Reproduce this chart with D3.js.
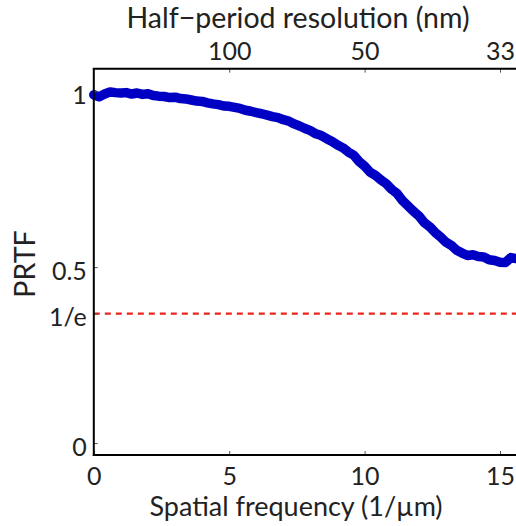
<!DOCTYPE html>
<html><head><meta charset="utf-8">
<script src="https://cdn.jsdelivr.net/npm/d3@7"></script>
<style>
html,body{margin:0;padding:0;background:#fff;}
svg{display:block;}
text{font-family:Lato, "Open Sans", sans-serif;fill:#222;}
</style></head>
<body>
<script>
// ---- data ----
const freq = [0.0,0.2,0.4,0.6,0.8,1.0,1.2,1.4,1.6,1.8,2.0,2.2,2.4,2.6,2.8,3.0,3.2,3.4,3.6,3.8,
  4.0,4.2,4.4,4.6,4.8,5.0,5.2,5.4,5.6,5.8,6.0,6.2,6.4,6.6,6.8,7.0,7.2,7.4,7.6,7.8,
  8.0,8.2,8.4,8.6,8.8,9.0,9.2,9.4,9.6,9.8,10.0,10.2,10.4,10.6,10.8,11.0,11.2,11.4,11.6,11.8,
  12.0,12.2,12.4,12.6,12.8,13.0,13.2,13.4,13.6,13.8,14.0,14.2,14.4,14.6,14.8,15.0,15.2,15.4,15.6];
const prtf = [0.990,0.984,0.992,0.998,0.996,0.995,0.996,0.992,0.995,0.991,0.993,0.988,0.986,0.985,0.982,0.983,0.979,0.978,0.975,0.972,
  0.971,0.967,0.964,0.962,0.958,0.957,0.954,0.951,0.946,0.943,0.939,0.936,0.932,0.928,0.925,0.919,0.915,0.907,0.901,0.894,
  0.888,0.879,0.874,0.865,0.857,0.847,0.839,0.827,0.818,0.800,0.787,0.770,0.761,0.748,0.737,0.721,0.709,0.689,0.674,0.659,
  0.646,0.627,0.615,0.599,0.586,0.571,0.562,0.548,0.540,0.533,0.535,0.530,0.529,0.521,0.519,0.514,0.513,0.527,0.524];
const xTicks = [0,5,10,15];
const xTickLabels = ["0","5","10","15"];
const topTicks = [5,10,15];
const topTickLabels = ["100","50","33"];
const yTicks = [0,0.5,1/Math.E,1];
const yTickLabels = ["0","0.5","1/e","1"];
const threshold = 1/Math.E;
const xTitle = "Spatial frequency (1/\u00b5m)";
const topTitle = "Half\u2212period resolution (nm)";
const yTitle = "PRTF";

// ---- layout ----
const W = 516, H = 526;
const svg = d3.select("body").append("svg").attr("width", W).attr("height", H);
const x = d3.scaleLinear().domain([0, 15.59]).range([93.8, 516]);
const y = d3.scaleLinear().domain([-0.034, 1.064]).range([455, 68.7]);

// threshold dashed line
svg.append("line")
  .attr("x1", x(0)).attr("x2", W)
  .attr("y1", y(threshold)).attr("y2", y(threshold))
  .attr("stroke", "#e8241c").attr("stroke-width", 2.4)
  .attr("stroke-dasharray", "6,5");

// curve
const line = d3.line().x((d,i)=>x(freq[i])).y(d=>y(d)).curve(d3.curveLinear);
svg.append("path").datum(prtf)
  .attr("d", line)
  .attr("fill", "none")
  .attr("stroke", "#0000c4")
  .attr("stroke-width", 9.5)
  .attr("stroke-linejoin", "round")
  .attr("stroke-linecap", "round");

// axes (ticks inside)
const fs = 25;
const gB = svg.append("g").attr("transform", `translate(0,${y.range()[0]})`)
  .call(d3.axisBottom(x).tickValues(xTicks).tickFormat((d,i)=>xTickLabels[i]).tickSizeInner(-4).tickSizeOuter(0));
const gT = svg.append("g").attr("transform", `translate(0,${y.range()[1]})`)
  .call(d3.axisTop(x).tickValues(topTicks).tickFormat((d,i)=>topTickLabels[i]).tickSizeInner(-4).tickSizeOuter(0));
const gL = svg.append("g").attr("transform", `translate(${x.range()[0]},0)`)
  .call(d3.axisLeft(y).tickValues(yTicks).tickFormat((d,i)=>yTickLabels[i]).tickSizeInner(-4).tickSizeOuter(0).tickPadding(7));
[gB,gT,gL].forEach(g=>{
  g.select(".domain").remove();
  g.selectAll(".tick line").attr("stroke","#555").attr("stroke-width",1);
  g.selectAll(".tick text").attr("font-size", fs).attr("font-family","Lato, 'Open Sans', sans-serif").attr("fill","#222");
});
gL.selectAll(".tick text").attr("dy", null).attr("y", 12);
gB.selectAll(".tick text").attr("dy", null).attr("y", 29.5);
gT.selectAll(".tick text").attr("dy", null).attr("y", -8.5);

// axis lines
svg.append("line").attr("x1", x.range()[0]).attr("x2", x.range()[0]).attr("y1", y.range()[1]).attr("y2", y.range()[0]+1).attr("stroke","#000").attr("stroke-width",2);
svg.append("line").attr("x1", x.range()[0]-1).attr("x2", W).attr("y1", y.range()[0]).attr("y2", y.range()[0]).attr("stroke","#000").attr("stroke-width",2);
svg.append("line").attr("x1", x.range()[0]-1).attr("x2", W).attr("y1", y.range()[1]).attr("y2", y.range()[1]).attr("stroke","#000").attr("stroke-width",2);

// titles
svg.append("text").attr("x", 296).attr("y", 516).attr("text-anchor","middle").attr("font-size", 27).text(xTitle);
svg.append("text").attr("x", 298).attr("y", 28).attr("text-anchor","middle").attr("font-size", 28.5).text(topTitle);
svg.append("text").attr("transform","translate(35,264) rotate(-90)").attr("text-anchor","middle").attr("font-size", 28.5).text(yTitle);
</script>
</body></html>
